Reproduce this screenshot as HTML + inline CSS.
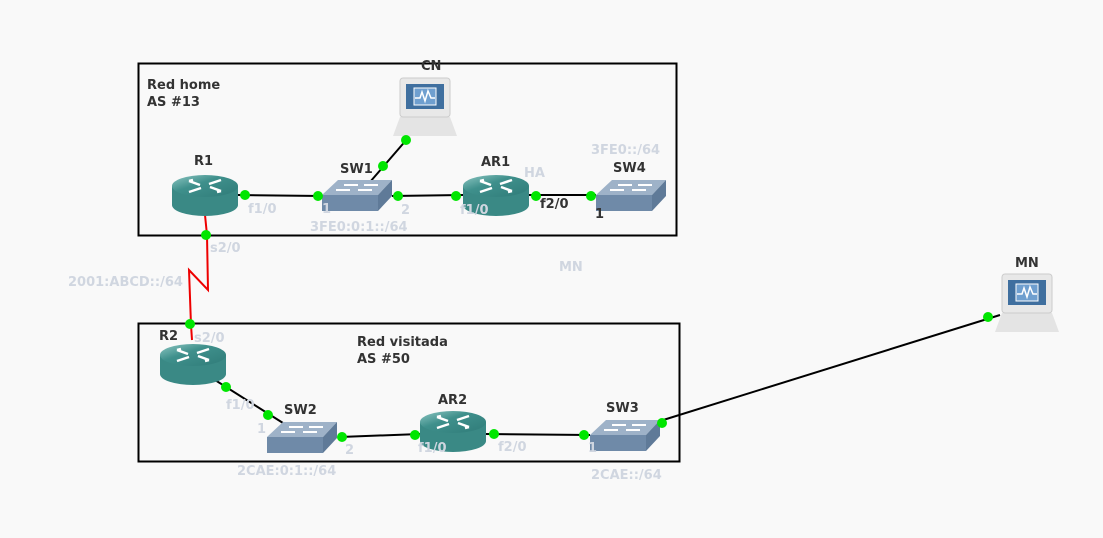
<!DOCTYPE html>
<html><head><meta charset="utf-8"><style>
html,body{margin:0;padding:0;background:#f9f9f9;}
svg{display:block;font-family:"DejaVu Sans","Liberation Sans",sans-serif;font-weight:bold;}
.lbl{font-size:13px;fill:#333;}
.gl{font-size:13px;fill:#d0d6e0;}
</style></head><body>
<svg width="1103" height="538" viewBox="0 0 1103 538" xmlns="http://www.w3.org/2000/svg">
<defs>
<linearGradient id="rt" x1="0" y1="0" x2="1" y2="1"><stop offset="0" stop-color="#8fc8c4"/><stop offset="0.4" stop-color="#3f908c"/><stop offset="1" stop-color="#2f7b78"/></linearGradient>
<g id="router">
 <path d="M-33,0 L-33,19 A33,11 0 0 0 33,19 L33,0 Z" fill="#3a8985"/>
 <ellipse cx="0" cy="0" rx="33" ry="11" fill="url(#rt)"/>
 <g stroke="#fff" stroke-width="2.5" fill="none">
  <path d="M-16,-5 L-5,-1 M-16,-5 l4,-1 M16,5 L5,1 M16,5 l-4,1 M16,-6 L4,-2 M-16,6 L-4,2"/>
 </g>
</g>
<g id="switch">
 <path d="M0,15 L16,0 L70,0 L56,15 Z" fill="#9eb2c8"/>
 <path d="M56,15 L70,0 L70,16 L56,31 Z" fill="#5f7a98"/>
 <rect x="0" y="15" width="56" height="16" fill="#6f8aa8"/>
 <g stroke="#fff" stroke-width="2" fill="none"><path d="M22,5 L36,5 M42,5 L56,5 M14,10 L28,10 M36,10 L50,10"/></g>
</g>
<g id="pc">
 <path d="M-10,39 L40,39 L47,58 L-17,58 Z" fill="#e4e4e4"/>
 <rect x="-10" y="0" width="50" height="39" rx="3" fill="#e8e8e8" stroke="#ccc"/>
 <rect x="-4" y="6" width="38" height="25" fill="#3f6f9f"/>
 <rect x="4" y="10" width="22" height="17" fill="#6f9fcf" stroke="#fff"/>
 <path d="M5,20 L10,20 L12,14 L15,23 L18,13 L21,20 L25,20" stroke="#fff" fill="none" stroke-width="1.5"/>
</g>
</defs>

<rect x="138.5" y="63.5" width="538" height="172" fill="none" stroke="#000" stroke-width="2"/>
<rect x="138.5" y="323.5" width="541" height="138" fill="none" stroke="#000" stroke-width="2"/>

<g stroke="#000" stroke-width="2" fill="none">
 <line x1="238" y1="195" x2="322" y2="196"/>
 <line x1="392" y1="196" x2="463" y2="195"/>
 <line x1="529" y1="195" x2="596" y2="195"/>
 <line x1="408" y1="138" x2="370" y2="182"/>
 <line x1="215" y1="380" x2="283" y2="423"/>
 <line x1="340" y1="437" x2="420" y2="434"/>
 <line x1="486" y1="434" x2="590" y2="435"/>
 <line x1="660" y1="421" x2="1000" y2="315"/>
</g>
<polyline points="205,215 207,235 208,290 189,270 191,325 192,340" stroke="#e00" stroke-width="2" fill="none"/>

<use href="#router" x="205" y="186"/>
<use href="#router" x="496" y="186"/>
<use href="#router" x="193" y="355"/>
<use href="#router" x="453" y="422"/>
<use href="#switch" x="322" y="180"/>
<use href="#switch" x="596" y="180"/>
<use href="#switch" x="267" y="422"/>
<use href="#switch" x="590" y="420"/>
<use href="#pc" x="410" y="78"/>
<use href="#pc" x="1012" y="274"/>

<g fill="#00e600">
 <circle cx="245" cy="195" r="5"/><circle cx="318" cy="196" r="5"/>
 <circle cx="398" cy="196" r="5"/><circle cx="456" cy="196" r="5"/>
 <circle cx="536" cy="196" r="5"/><circle cx="591" cy="196" r="5"/>
 <circle cx="383" cy="166" r="5"/><circle cx="406" cy="140" r="5"/>
 <circle cx="206" cy="235" r="5"/><circle cx="190" cy="324" r="5"/>
 <circle cx="226" cy="387" r="5"/><circle cx="268" cy="415" r="5"/>
 <circle cx="342" cy="437" r="5"/><circle cx="415" cy="435" r="5"/>
 <circle cx="494" cy="434" r="5"/><circle cx="584" cy="435" r="5"/>
 <circle cx="662" cy="423" r="5"/><circle cx="988" cy="317" r="5"/>
</g>

<text class="lbl" x="147" y="89">Red home</text>
<text class="lbl" x="147" y="106">AS #13</text>
<text class="lbl" x="357" y="346">Red visitada</text>
<text class="lbl" x="357" y="363">AS #50</text>
<text class="lbl" x="421" y="70">CN</text>
<text class="lbl" x="1015" y="267">MN</text>
<text class="lbl" x="194" y="165">R1</text>
<text class="lbl" x="340" y="173">SW1</text>
<text class="lbl" x="481" y="166">AR1</text>
<text class="lbl" x="613" y="172">SW4</text>
<text class="lbl" x="159" y="340">R2</text>
<text class="lbl" x="284" y="414">SW2</text>
<text class="lbl" x="438" y="404">AR2</text>
<text class="lbl" x="606" y="412">SW3</text>
<text class="lbl" x="540" y="208">f2/0</text>
<text class="lbl" x="595" y="218">1</text>

<text class="gl" x="248" y="213">f1/0</text>
<text class="gl" x="322" y="213">1</text>
<text class="gl" x="401" y="214">2</text>
<text class="gl" x="460" y="214">f1/0</text>
<text class="gl" x="310" y="231">3FE0:0:1::/64</text>
<text class="gl" x="524" y="177">HA</text>
<text class="gl" x="591" y="154">3FE0::/64</text>
<text class="gl" x="210" y="252">s2/0</text>
<text class="gl" x="68" y="286">2001:ABCD::/64</text>
<text class="gl" x="559" y="271">MN</text>
<text class="gl" x="194" y="342">s2/0</text>
<text class="gl" x="226" y="409">f1/0</text>
<text class="gl" x="257" y="433">1</text>
<text class="gl" x="345" y="454">2</text>
<text class="gl" x="418" y="452">f1/0</text>
<text class="gl" x="498" y="451">f2/0</text>
<text class="gl" x="588" y="452">1</text>
<text class="gl" x="237" y="475">2CAE:0:1::/64</text>
<text class="gl" x="591" y="479">2CAE::/64</text>
</svg>
</body></html>
